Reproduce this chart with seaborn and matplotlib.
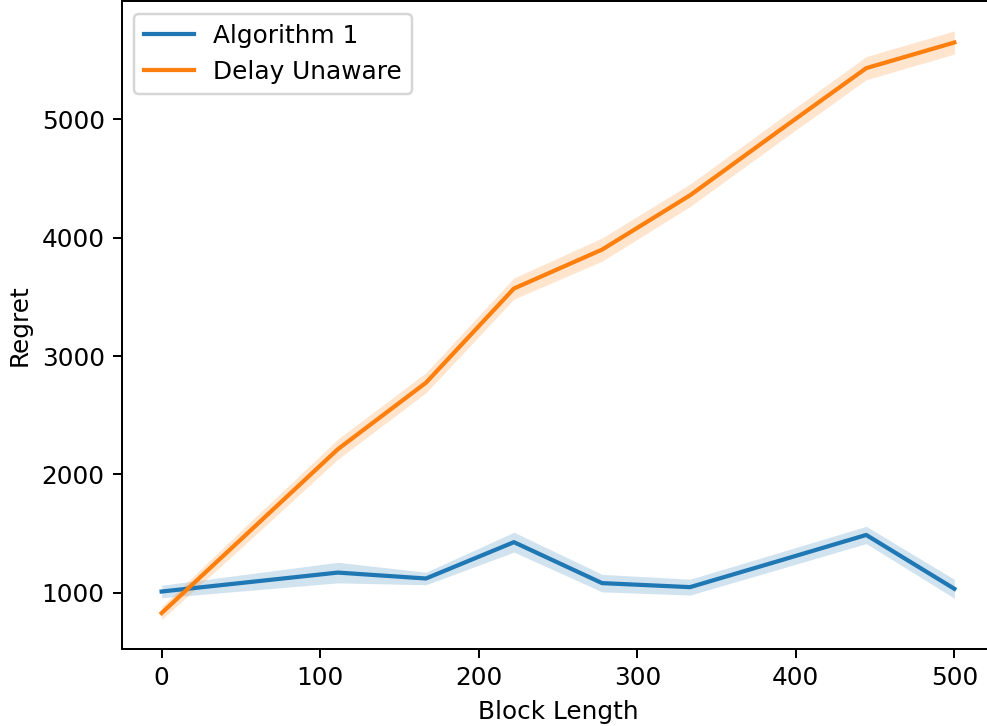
import matplotlib
matplotlib.use("Agg")
import matplotlib.pyplot as plt
import seaborn as sns
import numpy as np
import pandas as pd

block_length = [0, 55.6, 111.1, 166.7, 222.2, 277.8, 333.3, 388.9, 444.4, 500]

alg1_mean = [1011, 1091, 1171, 1121, 1428, 1082, 1048, 1268, 1489, 1034]
alg1_err = [53, 70, 87, 53, 84, 74, 67, 70, 73, 80]

unaware_mean = [829, 1521, 2213, 2775, 3571, 3900, 4359, 4899, 5433, 5650]
unaware_err = [55, 75, 85, 85, 89, 98, 95, 95, 98, 98]

labels = ["Algorithm 1", "Delay Unaware"]

df = pd.DataFrame({
    "Block Length": block_length * 2,
    "Regret": alg1_mean + unaware_mean,
    "err": alg1_err + unaware_err,
    "method": [labels[0]] * len(block_length) + [labels[1]] * len(block_length),
})

dpi = 178
fig, ax = plt.subplots(1, 1, figsize=(987 / dpi, 726 / dpi), dpi=dpi)
pal = sns.color_palette("tab10", 2)
sns.lineplot(data=df, ax=ax, x="Block Length", y="Regret", hue="method",
             palette=pal, linewidth=1.7, errorbar=None)
for i, lab in enumerate(labels):
    d = df[df["method"] == lab]
    ax.fill_between(d["Block Length"], d["Regret"] - d["err"], d["Regret"] + d["err"],
                    color=pal[i], alpha=0.2, linewidth=0)
ax.legend(title=None, loc="upper left")
# reference is cropped on the right, so the axes runs past the edge
plt.subplots_adjust(left=122 / 987, right=994 / 987, top=0.998, bottom=1 - 649 / 726)
plt.savefig("out.png", dpi=dpi)
